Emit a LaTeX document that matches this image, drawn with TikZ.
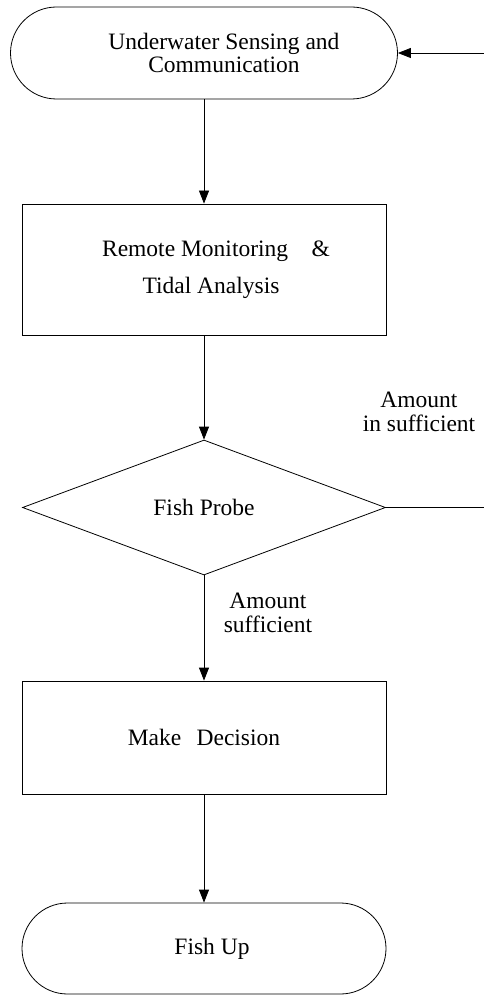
\documentclass[tikz,border=0pt]{standalone}
\usepackage{fontspec}
\setmainfont{Liberation Serif}
\usetikzlibrary{shapes.geometric,arrows.meta}

\tikzset{
  every node/.style={font=\fontsize{23.5}{24}\selectfont},
  term/.style={draw, rounded corners=45.5pt, align=center, minimum width=364pt, minimum height=91pt},
  proc/.style={draw, align=center, minimum width=364pt},
  decision/.style={draw, diamond, minimum width=363pt, minimum height=135pt, inner sep=0pt},
  lbl/.style={align=center, inner sep=0pt},
  arr/.style={-{Triangle[length=13pt,width=10pt]}},
}

\begin{document}
\begin{tikzpicture}[x=1pt, y=-1pt, line width=0.8pt]
    \useasboundingbox (0,0) rectangle (484,995);

    \node[term, rounded corners=46pt, minimum width=387pt, minimum height=92pt,
          font=\fontsize{23.5}{22.5}\selectfont] (sense) at (204,53)
        {\hspace*{40pt}Underwater Sensing and\\\hspace*{40pt}Communication};
    \node[proc, minimum height=131pt] (monitor) at (204,269.5)
        {\hspace*{24pt}Remote Monitoring\hspace{1em}\&\\[13pt]\hspace*{14pt}Tidal Analysis};
    \node[decision] (probe) at (204,507.5) {Fish Probe};
    \node[proc, minimum height=113pt] (decide) at (204,737.5) {Make\hspace{0.4em} Decision};
    \node[term] (fishup) at (204,948.5) {\hspace*{16pt}Fish Up};

    \coordinate (loopin) at (484,53);
    \coordinate (loopout) at (484,507.5);

    \draw[arr] (loopin) -- (sense.east);
    \draw[arr] (sense.south) -- (monitor.north);
    \draw[arr] (monitor.south) -- (probe.north);
    \draw (probe.east) -- (loopout);
    \draw[arr] (probe.south) -- (decide.north);
    \draw[arr] (decide.south) -- (fishup.north);

    \node[lbl] (insuff) at (419,412) {Amount\\in sufficient};
    \node[lbl] (suff) at (268,613) {Amount\\sufficient};
\end{tikzpicture}
\end{document}
